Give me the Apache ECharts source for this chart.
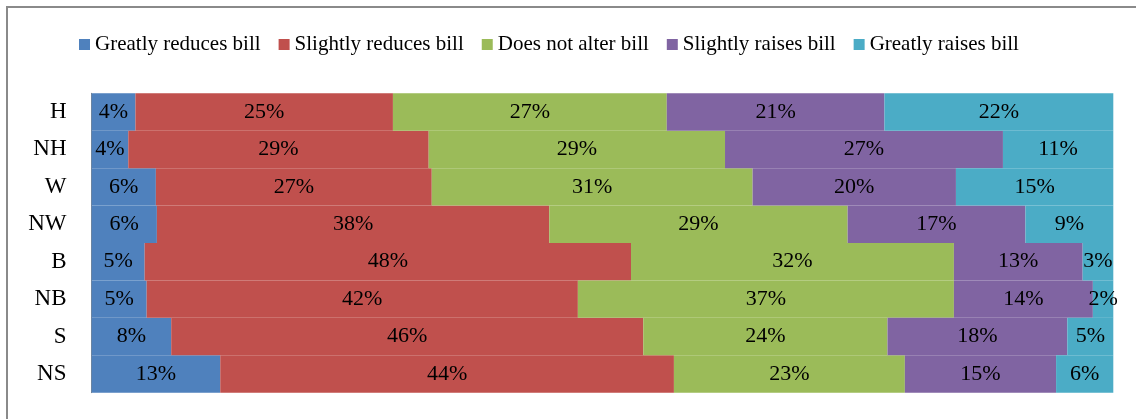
<!DOCTYPE html>
<html>
<head>
<meta charset="utf-8">
<script src="https://cdn.jsdelivr.net/npm/echarts@6/dist/echarts.min.js"></script>
<style>
  html, body { margin: 0; padding: 0; background: #ffffff; }
  #chart { width: 1136px; height: 419px; }
</style>
</head>
<body>
<div id="chart"></div>
<script>
// Regions, top to bottom
const categories = ['H', 'NH', 'W', 'NW', 'B', 'NB', 'S', 'NS'];

// Share of respondents (%) per bill effect, one value per region
const seriesNames = [
  'Greatly reduces bill',
  'Slightly reduces bill',
  'Does not alter bill',
  'Slightly raises bill',
  'Greatly raises bill'
];
const greatlyReduces  = [4.3, 3.6, 6.3, 6.4, 5.2, 5.4, 7.8, 12.6];
const slightlyReduces = [25.2, 29.4, 27.0, 38.4, 47.6, 42.2, 46.2, 44.4];
const doesNotAlter    = [26.8, 29.0, 31.4, 29.2, 31.6, 36.8, 23.9, 22.6];
const slightlyRaises  = [21.3, 27.2, 19.9, 17.4, 12.6, 13.6, 17.6, 14.8];
const greatlyRaises   = [22.4, 10.8, 15.4, 8.6, 3.0, 2.0, 4.5, 5.6];

const seriesValues = [greatlyReduces, slightlyReduces, doesNotAlter, slightlyRaises, greatlyRaises];
const colors = ['#4F81BD', '#C0504D', '#9BBB59', '#8064A2', '#4BACC6'];

const serif = '"Liberation Serif", "DejaVu Serif", serif';

const chart = echarts.init(document.getElementById('chart'), null, { renderer: 'canvas' });

chart.setOption({
  animation: false,
  backgroundColor: '#ffffff',
  color: colors,
  graphic: [{
    type: 'rect',
    shape: { x: 7, y: 7, width: 1200, height: 500 },
    style: { fill: 'none', stroke: '#8a8a8a', lineWidth: 2 },
    silent: true
  }],
  legend: {
    left: 74,
    top: 29,
    itemWidth: 11,
    itemHeight: 11,
    itemGap: 18,
    icon: 'rect',
    textStyle: { fontFamily: serif, fontSize: 21, color: '#000000' },
    data: seriesNames
  },
  grid: { left: 91.5, right: 22.7, top: 93.3, bottom: 26.3, containLabel: false },
  xAxis: {
    type: 'value',
    min: 0,
    max: 100,
    show: false
  },
  yAxis: {
    type: 'category',
    data: categories,
    inverse: true,
    axisLine: { show: true, lineStyle: { color: '#868686', width: 1 } },
    axisTick: { show: false },
    axisLabel: {
      margin: 25,
      fontFamily: serif,
      fontSize: 23,
      color: '#000000'
    }
  },
  series: seriesNames.map((name, i) => ({
    name: name,
    type: 'bar',
    stack: 'total',
    barCategoryGap: 0,
    data: seriesValues[i],
    itemStyle: { color: colors[i] },
    label: {
      show: true,
      position: 'inside',
      fontFamily: serif,
      fontSize: 22,
      color: '#000000',
      formatter: p => Math.round(p.value) + '%'
    }
  }))
});
</script>
</body>
</html>
